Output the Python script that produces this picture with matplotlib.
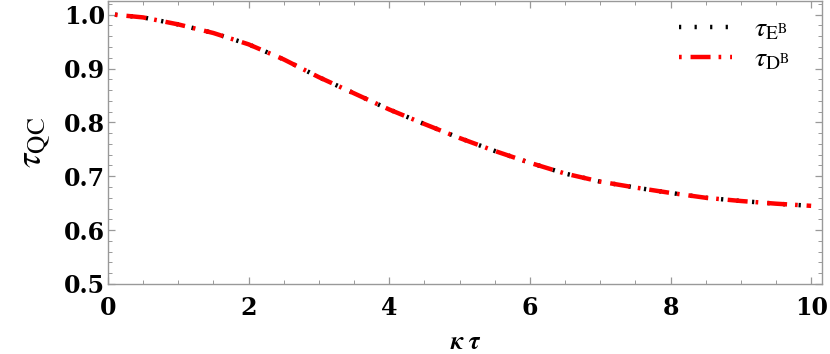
import matplotlib
matplotlib.use("Agg")
import matplotlib.pyplot as plt
from matplotlib.ticker import MultipleLocator

# data
kt = [0.1, 0.5, 1.0, 1.5, 2.0, 2.5, 3.0, 3.5, 4.0, 4.5, 5.0, 5.5, 6.0, 6.5, 7.0, 7.5, 8.0, 8.5, 9.0, 9.5, 10.0]
tau_E = [1.000, 0.995, 0.982, 0.966, 0.945, 0.917, 0.884, 0.854, 0.824, 0.797, 0.771, 0.747, 0.725, 0.705, 0.690, 0.679, 0.669, 0.660, 0.654, 0.649, 0.645]
tau_D = [1.000, 0.995, 0.982, 0.966, 0.945, 0.917, 0.884, 0.854, 0.824, 0.797, 0.771, 0.747, 0.725, 0.705, 0.690, 0.679, 0.669, 0.660, 0.654, 0.649, 0.645]
xticks = [0, 2, 4, 6, 8, 10]
yticks = [0.5, 0.6, 0.7, 0.8, 0.9, 1.0]

plt.rcParams['mathtext.fontset'] = 'stix'

fig = plt.figure(figsize=(8.3, 3.54), dpi=100)
ax = fig.add_axes([0.130, 0.198, 0.860, 0.800])

ax.plot(kt, tau_E, color='black', lw=3.2, linestyle=(0, (0.5, 3.0)),
        solid_capstyle='butt', dash_capstyle='butt',
        label=r'$\tau_{\mathrm{E}^{\mathrm{B}}}$')
ax.plot(kt, tau_D, color='red', lw=3.2, linestyle=(0, (0.6, 2.0, 4.5, 1.8)),
        dash_capstyle='butt',
        label=r'$\tau_{\mathrm{D}^{\mathrm{B}}}$')

ax.set_xlim(0, 10.15)
ax.set_ylim(0.5, 1.026)
ax.set_xticks(xticks)
ax.set_yticks(yticks)
ax.xaxis.set_minor_locator(MultipleLocator(0.5))
ax.yaxis.set_minor_locator(MultipleLocator(0.02))
ax.set_xticklabels([str(v) for v in xticks])
ax.set_yticklabels([f"{v:.1f}" for v in yticks])

for s in ax.spines.values():
    s.set_color('#999999')
    s.set_linewidth(1.0)
ax.tick_params(which='both', direction='in', top=True, right=True, color='#999999')
ax.tick_params(which='major', length=5, width=0.9, labelsize=17)
ax.tick_params(axis='y', which='major', pad=2)
ax.tick_params(axis='x', which='major', pad=9)
ax.tick_params(which='minor', length=3, width=0.7)
for lab in ax.get_xticklabels() + ax.get_yticklabels():
    lab.set_family('DejaVu Serif')
    lab.set_weight('bold')

ax.set_xlabel('κ τ', family='STIXGeneral', style='italic', weight='bold', fontsize=18, labelpad=7)
ax.set_ylabel(r'$\tau_{\mathrm{QC}}$', fontsize=26, labelpad=8)

leg = ax.legend(loc='upper right', frameon=False, fontsize=20, handlelength=1.9,
                labelspacing=0.05, borderaxespad=0.1, handletextpad=0.8,
                bbox_to_anchor=(0.975, 1.0))

fig.savefig('out.png', dpi=100)
